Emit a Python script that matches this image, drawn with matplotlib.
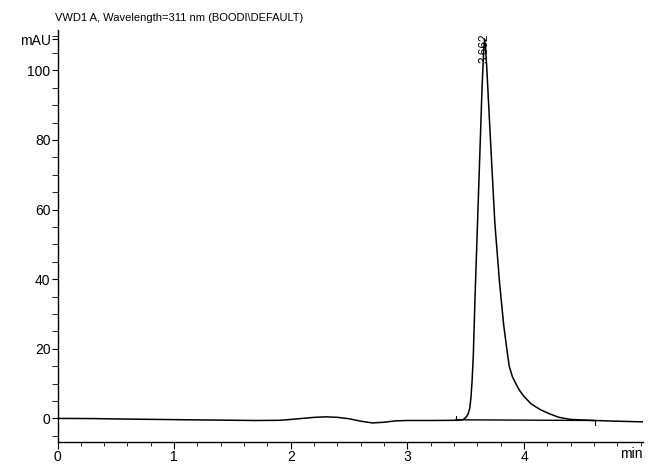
import matplotlib.pyplot as plt
from matplotlib.ticker import MultipleLocator

plt.rcParams['font.family'] = ['Liberation Sans', 'DejaVu Sans']

# retention time (min) and detector signal (mAU)
time = [0.0, 0.3, 0.6, 1.0, 1.4, 1.7, 1.9, 2.0, 2.1, 2.2, 2.3, 2.4, 2.5, 2.6,
        2.7, 2.8, 2.9, 3.0, 3.2, 3.4, 3.45, 3.48, 3.50, 3.52, 3.535, 3.545,
        3.555, 3.565, 3.58, 3.60, 3.62, 3.64, 3.655, 3.662, 3.67, 3.68, 3.70,
        3.72, 3.75, 3.79, 3.825, 3.85, 3.873, 3.90, 3.93, 3.96, 4.00, 4.06,
        4.14, 4.22, 4.30, 4.40, 4.6, 4.8, 5.02]
signal = [0.0, -0.05, -0.2, -0.35, -0.5, -0.6, -0.55, -0.3, 0.0, 0.3, 0.45,
          0.3, -0.1, -0.8, -1.3, -1.1, -0.7, -0.6, -0.6, -0.55, -0.5, -0.3,
          0.2, 1.2, 3.0, 6.0, 11.0, 18.0, 35.0, 55.0, 75.0, 95.0, 106.5,
          109.0, 106.5, 101.0, 88.0, 75.0, 56.0, 39.0, 27.0, 20.5, 15.0,
          12.0, 10.0, 8.1, 6.3, 4.2, 2.5, 1.3, 0.3, -0.3, -0.6, -0.8, -1.0]

# integration baseline of the peak
base_t = [3.416, 4.61]
base_y = [-0.4, -0.6]

peak_rt = 3.662
peak_label = '3.662'

fig = plt.figure(figsize=(6.52, 4.74), dpi=100)
ax = fig.add_axes([0.0882, 0.0681, 0.898, 0.8686])

ax.plot(time, signal, color='black', lw=1.1)
ax.plot(base_t, base_y, color='black', lw=1.0)
ax.plot([base_t[0], base_t[0]], [base_y[0], base_y[0] + 1.0], color='black', lw=0.8)
ax.plot([base_t[1], base_t[1]], [base_y[1], base_y[1] - 1.2], color='black', lw=0.8)

ax.text(peak_rt, 102.2, peak_label, rotation=90, ha='center', va='bottom', fontsize=8.5)

ax.set_xlim(0, 5.02)
ax.set_ylim(-6.7, 111.6)

for s in ['top', 'right']:
    ax.spines[s].set_visible(False)
ax.spines['left'].set_linewidth(1.0)
ax.spines['bottom'].set_linewidth(1.0)

ax.set_xticks([0, 1, 2, 3, 4])
ax.xaxis.set_minor_locator(MultipleLocator(0.2))
ax.set_yticks([0, 20, 40, 60, 80, 100, 109])
ax.set_yticklabels(['0', '20', '40', '60', '80', '100', 'mAU'])
ax.yaxis.set_minor_locator(MultipleLocator(5))

ax.tick_params(axis='x', which='major', direction='out', length=5, labelsize=10, pad=1)
ax.tick_params(axis='x', which='minor', direction='out', length=3)
ax.tick_params(axis='y', which='major', direction='out', length=4, labelsize=10, pad=1)
ax.tick_params(axis='y', which='minor', direction='out', length=4)

ax.text(1.0, -0.03, 'min', transform=ax.transAxes, ha='right', va='center', fontsize=10)
fig.text(0.084, 0.962, 'VWD1 A, Wavelength=311 nm (BOODI\\DEFAULT)', fontsize=8, ha='left', va='center')

fig.savefig('out.png', dpi=100)
